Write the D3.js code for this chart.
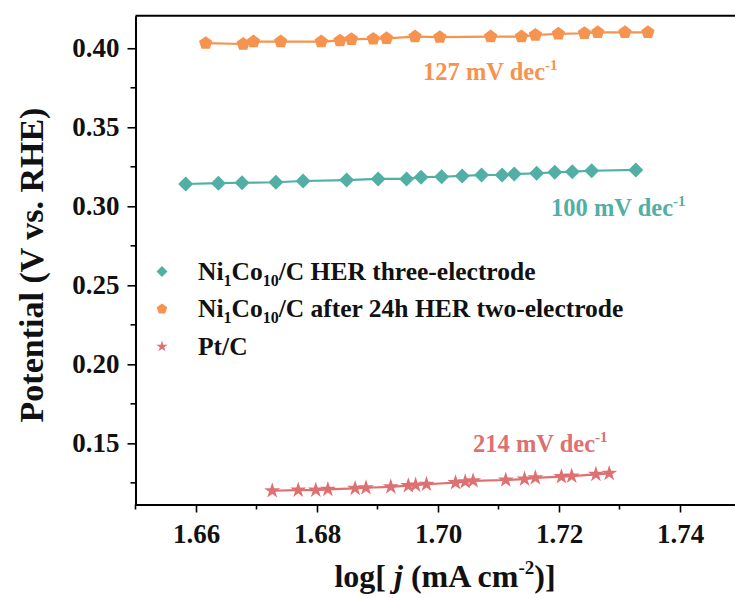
<!DOCTYPE html>
<html><head><meta charset="utf-8">
<script src="https://cdn.jsdelivr.net/npm/d3@7"></script>
<style>body{margin:0;background:#fff}svg{display:block}text{font-family:"Liberation Serif","Times New Roman",serif;font-weight:bold}</style>
</head><body>
<script>
// ---- data ----
const teal_x = [1.6583,1.6637,1.6676,1.6732,1.6777,1.6849,1.6901,1.6948,1.6972,1.7006,1.7040,1.7072,1.7106,1.7126,1.7163,1.7193,1.7222,1.7254,1.7327];
const teal_y = [0.3141,0.3146,0.3149,0.3152,0.3160,0.3166,0.3173,0.3173,0.3184,0.3187,0.3192,0.3198,0.3198,0.3204,0.3209,0.3215,0.3219,0.3225,0.3230];
const orange_x = [1.6616,1.6678,1.6695,1.6740,1.6807,1.6838,1.6857,1.6893,1.6915,1.6962,1.7003,1.7087,1.7138,1.7161,1.7199,1.7242,1.7264,1.7309,1.7347];
const orange_y = [0.4032,0.4027,0.4042,0.4042,0.4042,0.4048,0.4057,0.4059,0.4063,0.4074,0.4070,0.4074,0.4074,0.4084,0.4091,0.4095,0.4101,0.4101,0.4101];
const pt_x = [1.6726,1.6769,1.6798,1.6818,1.6863,1.6881,1.6922,1.6951,1.6963,1.6981,1.7029,1.7045,1.7058,1.7112,1.7143,1.7161,1.7204,1.7221,1.7261,1.7283];
const pt_y = [0.1200,0.1204,0.1204,0.1209,0.1215,0.1219,0.1225,0.1232,0.1236,0.1241,0.1251,0.1257,0.1263,0.1268,0.1274,0.1282,0.1289,0.1293,0.1304,0.1310];
const x_ticks = [1.66,1.68,1.70,1.72,1.74];
const y_ticks = [0.15,0.20,0.25,0.30,0.35,0.40];
const series_names = ["three","two","pt"];
const slope_labels = ["100 mV dec","127 mV dec","214 mV dec"];

const W = 735, H = 598;
const colors = {three:"#52AFA5", two:"#F6934F", pt:"#DE7071"};
const svg = d3.select("body").append("svg").attr("width",W).attr("height",H);

const x = d3.scaleLinear().domain([1.65,1.75]).range([135.5,740.5]);
const y = d3.scaleLinear().domain([0.1113,0.4206]).range([504.5,15.7]);

// symbols
function diamondPath(r){return `M0,${-r}L${r},0L0,${r}L${-r},0Z`;}
function pentagonPath(r){let p=[];for(let i=0;i<5;i++){const a=-Math.PI/2+i*2*Math.PI/5;p.push([r*Math.cos(a),r*Math.sin(a)]);}return "M"+p.map(d=>d.join(",")).join("L")+"Z";}
function starPath(s){return d3.symbol(d3.symbolStar, s)();}
const shapes = {three:r=>diamondPath(r), two:r=>pentagonPath(r), pt:r=>starPath(r)};

// axes
const xAxis = d3.axisBottom(x).tickValues(x_ticks).tickFormat(d3.format(".2f")).tickSize(8).tickSizeOuter(0);
const gx = svg.append("g").attr("transform",`translate(0,${y.range()[0]})`).call(xAxis);
gx.select(".domain").attr("stroke","#000").attr("stroke-width",2);
gx.selectAll(".tick line").attr("stroke","#000").attr("stroke-width",1.6);
gx.selectAll(".tick text").attr("font-size",27).attr("dy","1.0em").attr("fill","#111");
const xMinor = d3.range(1.65,1.751,0.01).filter(v=>!x_ticks.some(t=>Math.abs(t-v)<1e-6));
gx.selectAll(".minor").data(xMinor).enter().append("line").attr("x1",d=>x(d)).attr("x2",d=>x(d)).attr("y1",0).attr("y2",5).attr("stroke","#000").attr("stroke-width",1.6);

const yAxis = d3.axisLeft(y).tickValues(y_ticks).tickFormat(d3.format(".2f")).tickSize(8).tickSizeOuter(0);
const gy = svg.append("g").attr("transform",`translate(${x.range()[0]},0)`).call(yAxis);
gy.select(".domain").attr("stroke","#000").attr("stroke-width",2);
gy.selectAll(".tick line").attr("stroke","#000").attr("stroke-width",1.6);
gy.selectAll(".tick text").attr("font-size",27).attr("x",-16).attr("fill","#111");
const yMinor = [0.125,0.175,0.225,0.275,0.325,0.375];
gy.selectAll(".minor").data(yMinor).enter().append("line").attr("y1",d=>y(d)).attr("y2",d=>y(d)).attr("x1",0).attr("x2",-5).attr("stroke","#000").attr("stroke-width",1.6);

// top & right border
svg.append("line").attr("x1",x.range()[0]).attr("x2",x.range()[1]).attr("y1",y.range()[1]).attr("y2",y.range()[1]).attr("stroke","#000").attr("stroke-width",2);
svg.append("line").attr("x1",x.range()[1]).attr("x2",x.range()[1]).attr("y1",y.range()[1]).attr("y2",y.range()[0]).attr("stroke","#000").attr("stroke-width",2);

// series
const seriesData = {
  three: teal_x.map((v,i)=>[v,teal_y[i]]),
  two: orange_x.map((v,i)=>[v,orange_y[i]]),
  pt: pt_x.map((v,i)=>[v,pt_y[i]])
};
const markerSize = {three:7.5, two:7, pt:80};
const line = d3.line().x(d=>x(d[0])).y(d=>y(d[1]));
series_names.forEach(k=>{
  svg.append("path").datum(seriesData[k]).attr("d",line).attr("fill","none").attr("stroke",colors[k]).attr("stroke-width",2.2);
  svg.selectAll(".m-"+k).data(seriesData[k]).enter().append("path")
    .attr("transform",d=>`translate(${x(d[0])},${y(d[1])})`)
    .attr("d",shapes[k](markerSize[k])).attr("fill",colors[k]);
});

// slope labels
const slopePos = {three:[551,216], two:[423,80], pt:[473,452]};
series_names.forEach((k,i)=>{
  const t = svg.append("text").attr("x",slopePos[k][0]).attr("y",slopePos[k][1]).attr("font-size",24.5).attr("fill",colors[k]);
  t.append("tspan").text(slope_labels[i]);
  t.append("tspan").attr("font-size",15).attr("dy",-10).text("-1");
});

// legend
const legendRows = [
  {k:"three", parts:[["Ni",0],["1",1],["Co",0],["10",1],["/C HER three-electrode",0]]},
  {k:"two", parts:[["Ni",0],["1",1],["Co",0],["10",1],["/C after 24h HER two-electrode",0]]},
  {k:"pt", parts:[["Pt/C",0]]}
];
const legMarker = {three:5.5, two:5.5, pt:40};
legendRows.forEach((r,i)=>{
  const cy = 271.5 + i*37.5;
  svg.append("path").attr("transform",`translate(162,${cy})`).attr("d",shapes[r.k](legMarker[r.k])).attr("fill",colors[r.k]);
  const t = svg.append("text").attr("x",198).attr("y",cy+8).attr("font-size",25.5).attr("fill","#111");
  let sub=false;
  r.parts.forEach(p=>{
    const ts = t.append("tspan").text(p[0]);
    if(p[1]){ts.attr("font-size",16).attr("dy",sub?0:6); sub=true;}
    else { if(sub){ts.attr("dy",-6);} sub=false; }
  });
});

// axis titles
const xt = svg.append("text").attr("x",445).attr("y",587).attr("text-anchor","middle").attr("font-size",32).attr("fill","#111");
xt.append("tspan").text("log[ ");
xt.append("tspan").attr("font-style","italic").text("j");
xt.append("tspan").text(" (mA cm");
xt.append("tspan").attr("font-size",19).attr("dy",-13).text("-2");
xt.append("tspan").attr("dy",13).text(")]");

svg.append("text").attr("transform","translate(43,265) rotate(-90)").attr("text-anchor","middle").attr("font-size",34).attr("fill","#111").text("Potential (V vs. RHE)");
</script>
</body></html>
